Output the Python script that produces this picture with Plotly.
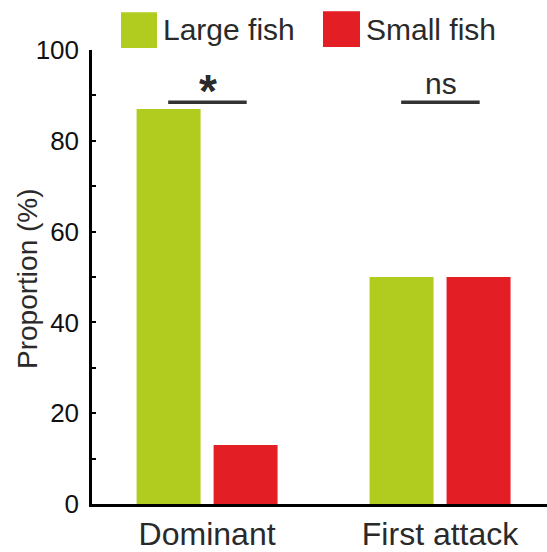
import plotly.graph_objects as go

# Data
categories = ["Dominant", "First attack"]
series_names = ["Large fish", "Small fish"]
large_fish = [87, 50]
small_fish = [13, 50]
significance = ["*", "ns"]
sig_level = [88.5, 88.5]
y_title = "Proportion (%)"

colors = ["#B1CB1F", "#E31E25"]
font_family = "Liberation Sans, Arial, sans-serif"
text_color = "#2a2a2a"

W, H = 547, 552
M_L, M_R, M_T, M_B = 92, 0, 50, 44
PW, PH = W - M_L - M_R, H - M_T - M_B


def px_x(p):
    return (p - M_L) / PW


def px_y(p):
    return (H - M_B - p) / PH


x_pos = list(range(len(categories)))

fig = go.Figure()
for name, vals, col in zip(series_names, [large_fish, small_fish], colors):
    fig.add_trace(go.Bar(x=x_pos, y=vals, name=name, marker=dict(color=col, line=dict(width=0)),
                         showlegend=False))

# significance bars and labels
for xi, lab, lvl in zip(x_pos, significance, sig_level):
    fig.add_shape(type="line", xref="x", yref="y", x0=xi - 0.167, x1=xi + 0.17, y0=lvl, y1=lvl,
                  line=dict(color="#333333", width=3.5))
    is_star = lab == "*"
    fig.add_annotation(x=xi + 0.002, y=lvl, xref="x", yref="y",
                       text=("<b>*</b>" if is_star else lab), showarrow=False,
                       yanchor="bottom", yshift=(-17 if is_star else 0),
                       font=dict(family=font_family, size=(46 if is_star else 30), color="#2a2a2a"))

# legend drawn as swatches with labels
legend_boxes = [(121, 157, 12, 48), (323, 360, 11, 47)]
for name, col, (x0, x1, y0, y1) in zip(series_names, colors, legend_boxes):
    fig.add_shape(type="rect", xref="paper", yref="paper", x0=px_x(x0), x1=px_x(x1),
                  y0=px_y(y1), y1=px_y(y0), fillcolor=col, line=dict(width=0))
    fig.add_annotation(x=px_x(x1 + 4), y=px_y(29), xref="paper", yref="paper", text=name,
                       showarrow=False, xanchor="left", yanchor="middle",
                       font=dict(family=font_family, size=30, color=text_color))

# vertical axis title
fig.add_annotation(x=px_x(28), y=px_y(281), xref="paper", yref="paper", text=y_title,
                   textangle=-90, showarrow=False, xanchor="center", yanchor="middle",
                   font=dict(family=font_family, size=28, color=text_color))

fig.update_layout(
    width=W, height=H,
    margin=dict(l=M_L, r=M_R, t=M_T, b=M_B, pad=0),
    paper_bgcolor="white", plot_bgcolor="white",
    barmode="group", bargap=0.339, bargroupgap=0.169,
    font=dict(family=font_family, color=text_color),
    showlegend=False,
)
fig.update_xaxes(
    range=[-0.494, 1.459], tickvals=x_pos, ticktext=categories, ticks="",
    showline=True, linecolor="black", linewidth=2.5, showgrid=False, zeroline=False,
    tickfont=dict(size=32, color=text_color),
)
fig.update_yaxes(
    range=[0, 100], dtick=20, ticks="inside", ticklen=4, tickwidth=2, tickcolor="black",
    minor=dict(dtick=10, ticks="inside", ticklen=4, tickwidth=2, tickcolor="black"),
    showline=True, linecolor="black", linewidth=2.5, showgrid=False, zeroline=False,
    tickfont=dict(size=26, color="#111111"), ticklabelstandoff=5,
)

fig.write_html("out.html")
